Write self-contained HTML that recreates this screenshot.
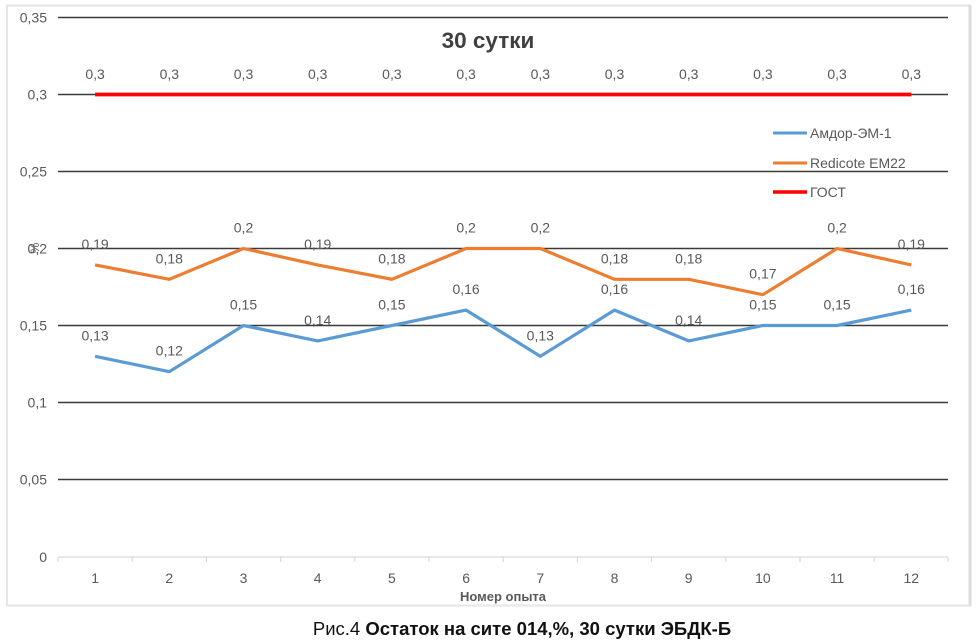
<!DOCTYPE html>
<html><head><meta charset="utf-8"><style>
html,body{margin:0;padding:0;background:#fff;}
svg{display:block;}
text{font-family:"Liberation Sans",sans-serif;}
</style></head><body>
<svg width="979" height="642" viewBox="0 0 979 642" xmlns="http://www.w3.org/2000/svg">
<rect x="0" y="0" width="979" height="642" fill="#fff"/>
<rect x="7" y="5.5" width="963" height="600" fill="#fff" stroke="#e4e6ea" stroke-width="2"/>
<line x1="970" y1="5" x2="970" y2="606" stroke="#d8dbe0" stroke-width="3"/>
<!-- gridlines -->
<g stroke="#3a3a3a" stroke-width="1.4">
<line x1="58" y1="17.5" x2="948" y2="17.5"/>
<line x1="58" y1="94.5" x2="948" y2="94.5"/>
<line x1="58" y1="171.5" x2="948" y2="171.5"/>
<line x1="58" y1="248.5" x2="948" y2="248.5"/>
<line x1="58" y1="325.5" x2="948" y2="325.5"/>
<line x1="58" y1="402.5" x2="948" y2="402.5"/>
<line x1="58" y1="479.5" x2="948" y2="479.5"/>
</g>
<line x1="58" y1="557" x2="948" y2="557" stroke="#d9d9d9" stroke-width="1.3"/>
<g stroke="#d9d9d9" stroke-width="1.2">
<line x1="58" y1="557" x2="58" y2="562"/><line x1="132.2" y1="557" x2="132.2" y2="562"/><line x1="206.4" y1="557" x2="206.4" y2="562"/><line x1="280.6" y1="557" x2="280.6" y2="562"/><line x1="354.8" y1="557" x2="354.8" y2="562"/><line x1="429" y1="557" x2="429" y2="562"/><line x1="503.2" y1="557" x2="503.2" y2="562"/><line x1="577.4" y1="557" x2="577.4" y2="562"/><line x1="651.6" y1="557" x2="651.6" y2="562"/><line x1="725.8" y1="557" x2="725.8" y2="562"/><line x1="800" y1="557" x2="800" y2="562"/><line x1="874.2" y1="557" x2="874.2" y2="562"/><line x1="948" y1="557" x2="948" y2="562"/>
</g>
<!-- y labels -->
<g fill="#595959" font-size="14" text-anchor="end">
<text x="47" y="22.5">0,35</text>
<text x="47" y="99.5">0,3</text>
<text x="47" y="176.5">0,25</text>
<text x="47" y="253.5">0,2</text>
<text x="47" y="330.5">0,15</text>
<text x="47" y="407.5">0,1</text>
<text x="47" y="484.5">0,05</text>
<text x="47" y="562">0</text>
</g>
<text x="0" y="0" fill="#595959" font-size="12" transform="translate(39,248) rotate(-90)" text-anchor="middle">%</text>
<!-- x labels -->
<g fill="#595959" font-size="14" text-anchor="middle">
<text x="95.1" y="583">1</text><text x="169.3" y="583">2</text><text x="243.5" y="583">3</text><text x="317.7" y="583">4</text><text x="391.9" y="583">5</text><text x="466.1" y="583">6</text><text x="540.3" y="583">7</text><text x="614.5" y="583">8</text><text x="688.7" y="583">9</text><text x="762.9" y="583">10</text><text x="837.1" y="583">11</text><text x="911.3" y="583">12</text>
</g>
<text x="503" y="601" fill="#595959" font-size="13" font-weight="bold" text-anchor="middle">Номер опыта</text>
<!-- title -->
<text x="488" y="48" fill="#404040" font-size="22.5" font-weight="bold" text-anchor="middle">30 сутки</text>
<!-- series -->
<polyline fill="none" stroke="#5b9bd5" stroke-width="3.2" stroke-linejoin="round" points="95.1,356.3 169.3,371.7 243.5,325.5 317.7,340.9 391.9,325.5 466.1,310.1 540.3,356.3 614.5,310.1 688.7,340.9 762.9,325.5 837.1,325.5 911.3,310.1"/>
<polyline fill="none" stroke="#ed7d31" stroke-width="3.2" stroke-linejoin="round" points="95.1,264.9 169.3,279.3 243.5,248.5 317.7,264.9 391.9,279.3 466.1,248.5 540.3,248.5 614.5,279.3 688.7,279.3 762.9,294.7 837.1,248.5 911.3,264.9"/>
<line x1="95.1" y1="94.5" x2="911.3" y2="94.5" stroke="#ff0000" stroke-width="3.8"/>
<!-- data labels -->
<g fill="#595959" font-size="14" text-anchor="middle">
<text x="95.1" y="79">0,3</text><text x="169.3" y="79">0,3</text><text x="243.5" y="79">0,3</text><text x="317.7" y="79">0,3</text><text x="391.9" y="79">0,3</text><text x="466.1" y="79">0,3</text><text x="540.3" y="79">0,3</text><text x="614.5" y="79">0,3</text><text x="688.7" y="79">0,3</text><text x="762.9" y="79">0,3</text><text x="837.1" y="79">0,3</text><text x="911.3" y="79">0,3</text>

<text x="95.1" y="249">0,19</text><text x="169.3" y="263.3">0,18</text><text x="243.5" y="232.5">0,2</text><text x="317.7" y="249">0,19</text><text x="391.9" y="263.3">0,18</text><text x="466.1" y="232.5">0,2</text><text x="540.3" y="232.5">0,2</text><text x="614.5" y="263.3">0,18</text><text x="688.7" y="263.3">0,18</text><text x="762.9" y="278.7">0,17</text><text x="837.1" y="232.5">0,2</text><text x="911.3" y="249">0,19</text>

<text x="95.1" y="340.3">0,13</text><text x="169.3" y="355.7">0,12</text><text x="243.5" y="309.5">0,15</text><text x="317.7" y="324.9">0,14</text><text x="391.9" y="309.5">0,15</text><text x="466.1" y="294.1">0,16</text><text x="540.3" y="340.3">0,13</text><text x="614.5" y="294.1">0,16</text><text x="688.7" y="324.9">0,14</text><text x="762.9" y="309.5">0,15</text><text x="837.1" y="309.5">0,15</text><text x="911.3" y="294.1">0,16</text>
</g>
<!-- legend -->
<line x1="773" y1="133" x2="807" y2="133" stroke="#5b9bd5" stroke-width="3"/>
<line x1="773" y1="163" x2="807" y2="163" stroke="#ed7d31" stroke-width="3"/>
<line x1="773" y1="192" x2="807" y2="192" stroke="#ff0000" stroke-width="3.5"/>
<g fill="#595959" font-size="14">
<text x="810" y="138">Амдор-ЭМ-1</text>
<text x="810" y="168">Redicote EM22</text>
<text x="810" y="197">ГОСТ</text>
</g>
<!-- caption -->
<text x="522" y="635" font-size="18.5" fill="#111" text-anchor="middle">Рис.4 <tspan font-weight="bold">Остаток на сите 014,%, 30 сутки ЭБДК-Б</tspan></text>
</svg>
</body></html>
